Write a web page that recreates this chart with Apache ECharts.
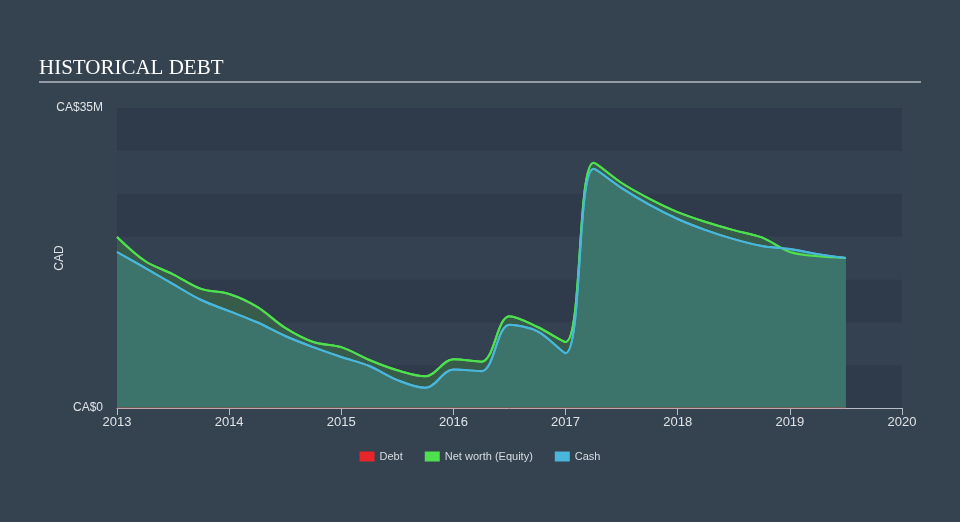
<!DOCTYPE html>
<html><head><meta charset="utf-8">
<script src="https://cdn.jsdelivr.net/npm/echarts@6/dist/echarts.min.js"></script>
<style>html,body{margin:0;padding:0;background:#354250;}#c{width:960px;height:522px;}</style>
</head><body><div id="c"></div>
<script>
// quarterly dates (decimal years)
const dates = [2013.0,2013.25,2013.5,2013.75,2014.0,2014.25,2014.5,2014.75,2015.0,2015.25,2015.5,2015.75,2016.0,2016.25,2016.5,2016.75,2017.0,2017.25,2017.5,2017.75,2018.0,2018.25,2018.5,2018.75,2019.0,2019.25,2019.5];
// values in CA$ millions
const netWorth = [19.95,17.15,15.6,13.9,13.3,11.8,9.35,7.7,7.1,5.6,4.4,3.7,5.7,5.4,10.7,9.45,7.7,28.6,26.25,24.4,22.85,21.7,20.75,19.9,18.2,17.7,17.5];
const cash     = [18.2,16.35,14.45,12.6,11.3,10.0,8.4,7.1,5.95,4.9,3.25,2.35,4.5,4.3,9.7,8.95,6.4,27.9,25.65,23.7,22.05,20.75,19.7,18.9,18.55,17.95,17.5];
const debt     = [0,0,0,0,0,0,0,0,0,0,0,0,0,0,0,0,0,0,0,0,0,0,0,0,0,0,0];
const xTicks = [2013,2014,2015,2016,2017,2018,2019,2020];
const yMax = 35;

const pair = arr => dates.map((d,i)=>[d, arr[i]]);
const chart = echarts.init(document.getElementById('c'), null, {renderer:'canvas'});
const font = "'Liberation Sans', Arial, sans-serif";
chart.setOption({
  backgroundColor:'#354250',
  animation:false,
  title:{text:'HISTORICAL DEBT', left:34, top:53, textStyle:{fontFamily:"'Liberation Serif','DejaVu Serif',serif", fontWeight:'normal', fontSize:21, color:'#ffffff'}},
  graphic:[{type:'line', shape:{x1:39,y1:82,x2:921,y2:82}, style:{stroke:'#b4bac2', lineWidth:1.5}}],
  legend:{bottom:55, left:'center', itemWidth:15, itemHeight:10, itemGap:22, icon:'rect',
    textStyle:{color:'#d8dce0', fontSize:11, fontFamily:font},
    data:['Debt','Net worth (Equity)','Cash']},
  grid:{left:117, right:58, top:108, bottom:114},
  xAxis:{type:'value', min:xTicks[0], max:xTicks[xTicks.length-1], interval:1,
    axisLine:{lineStyle:{color:'#b8bec8', width:1}},
    axisTick:{show:true, length:7, lineStyle:{color:'#b8bec8'}},
    axisLabel:{color:'#e0e3e6', fontSize:13, fontFamily:font, margin:8, formatter:v=>String(v)},
    splitLine:{show:false}},
  yAxis:{type:'value', min:0, max:yMax, interval:5,
    name:'CAD', nameLocation:'middle', nameGap:51, nameRotate:90, nameMoveOverlap:false,
    nameTextStyle:{color:'#e0e3e6', fontSize:12, fontFamily:font},
    axisLine:{show:false}, axisTick:{show:false},
    axisLabel:{color:'#e0e3e6', fontSize:12, fontFamily:font, margin:14,
      formatter:v=> v===0?'CA$0':(v===yMax?'CA$'+yMax+'M':'')},
    splitLine:{show:false},
    splitArea:{show:true, areaStyle:{color:['#2f3b4a','#344150']}}},
  series:[
    {name:'Net worth (Equity)', type:'line', data:pair(netWorth), smooth:0.35, symbol:'none', z:2,
      lineStyle:{color:'#4fe04f', width:2}, itemStyle:{color:'#4fe04f'},
      areaStyle:{color:'#385c4a', opacity:1}},
    {name:'Cash', type:'line', data:pair(cash), smooth:0.35, symbol:'none', z:3,
      lineStyle:{color:'#49b7dc', width:2}, itemStyle:{color:'#49b7dc'},
      areaStyle:{color:'#3c736a', opacity:1}},
    {name:'Net worth line', type:'line', data:pair(netWorth), smooth:0.35, symbol:'none', z:4,
      lineStyle:{color:'#4fe04f', width:2}, silent:true},
    {name:'Cash line', type:'line', data:pair(cash), smooth:0.35, symbol:'none', z:5,
      lineStyle:{color:'#49b7dc', width:2}, silent:true},
    {name:'Debt', type:'line', data:pair(debt), symbol:'none', z:6,
      lineStyle:{color:'#e8262a', width:1, opacity:0.6}, itemStyle:{color:'#e8262a'}}
  ]
});
</script></body></html>
